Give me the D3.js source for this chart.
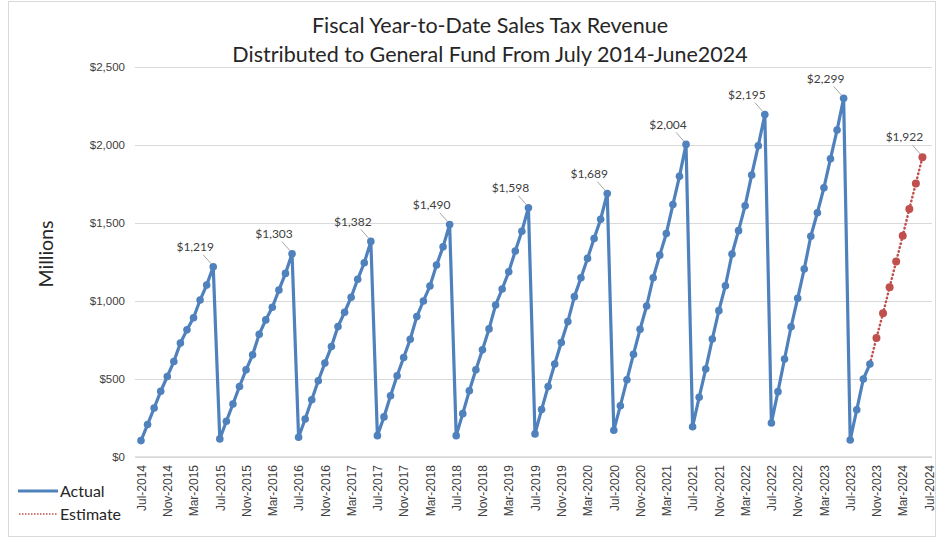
<!DOCTYPE html>
<html>
<head>
<meta charset="utf-8">
<script src="https://cdn.jsdelivr.net/npm/d3@7/dist/d3.min.js"></script>
<style>
  html, body { margin: 0; padding: 0; background: #ffffff; }
  svg { display: block; font-family: Lato, "Open Sans", sans-serif; }
</style>
</head>
<body>
<svg id="chart" width="937" height="540"></svg>
<script>
// ---- DATA ----
const titleLines = ["Fiscal Year-to-Date Sales Tax Revenue", "Distributed to General Fund From July 2014-June2024"];
const monthAbbr = ["Jul","Aug","Sep","Oct","Nov","Dec","Jan","Feb","Mar","Apr","May","Jun"];
const fiscalYears = [2015, 2016, 2017, 2018, 2019, 2020, 2021, 2022, 2023, 2024];
const fy2015 = [105, 208, 314, 421, 516, 612, 730, 815, 893, 1006, 1102, 1219];
const fy2016 = [116, 229, 340, 452, 559, 655, 787, 879, 960, 1070, 1177, 1303];
const fy2017 = [127, 244, 367, 489, 602, 708, 836, 928, 1024, 1139, 1245, 1382];
const fy2018 = [137, 257, 393, 521, 638, 755, 900, 1000, 1096, 1230, 1347, 1490];
const fy2019 = [137, 278, 425, 559, 687, 821, 974, 1077, 1187, 1320, 1447, 1598];
const fy2020 = [148, 304, 452, 596, 734, 868, 1028, 1149, 1273, 1401, 1524, 1689];
const fy2021 = [171, 329, 495, 659, 819, 968, 1149, 1294, 1433, 1618, 1799, 2004];
const fy2022 = [194, 383, 564, 756, 938, 1098, 1301, 1451, 1611, 1808, 1995, 2195];
const fy2023 = [218, 419, 628, 835, 1017, 1205, 1415, 1566, 1726, 1912, 2096, 2299];
const fy2024Actual = [109, 303, 500, 596];
const fy2024Estimate = [763, 921, 1088, 1254, 1418, 1590, 1754, 1922];
const peakLabels = ["$1,219", "$1,303", "$1,382", "$1,490", "$1,598", "$1,689", "$2,004", "$2,195", "$2,299", "$1,922"];
const yTicks = [0, 500, 1000, 1500, 2000, 2500];
const yTickLabels = ["$0", "$500", "$1,000", "$1,500", "$2,000", "$2,500"];
const xTickLabels = ["Jul-2014","Nov-2014","Mar-2015","Jul-2015","Nov-2015","Mar-2016","Jul-2016","Nov-2016","Mar-2017","Jul-2017","Nov-2017","Mar-2018","Jul-2018","Nov-2018","Mar-2019","Jul-2019","Nov-2019","Mar-2020","Jul-2020","Nov-2020","Mar-2021","Jul-2021","Nov-2021","Mar-2022","Jul-2022","Nov-2022","Mar-2023","Jul-2023","Nov-2023","Mar-2024","Jul-2024"];
const yTitle = "Millions";
const legendLabels = ["Actual", "Estimate"];

// ---- build categories (Jul-2014 .. Jul-2024) ----
const categories = [];
fiscalYears.forEach(fy => monthAbbr.forEach((m, i) => categories.push(m + "-" + (i < 6 ? fy - 1 : fy))));
categories.push("Jul-2024");

const actualValues = [].concat(fy2015, fy2016, fy2017, fy2018, fy2019, fy2020, fy2021, fy2022, fy2023, fy2024Actual);
const actual = actualValues.map((v, i) => ({ c: categories[i], v }));
const estStart = actualValues.length;
const estimate = [{ c: categories[estStart - 1], v: actualValues[estStart - 1] }]
  .concat(fy2024Estimate.map((v, i) => ({ c: categories[estStart + i], v })));

// ---- layout ----
const svg = d3.select("#chart");
const blue = "#4f81bd", red = "#c0504d", textCol = "#404040", grid = "#d9d9d9";
const x = d3.scalePoint().domain(categories).range([141, 929]);
const y = d3.scaleLinear().domain([0, 2500]).range([457, 67]);

svg.append("rect").attr("x", 8.5).attr("y", 1.5).attr("width", 927).attr("height", 535)
  .attr("fill", "#fff").attr("stroke", grid).attr("stroke-width", 1);

// title
svg.append("g").selectAll("text").data(titleLines).join("text")
  .attr("x", 490).attr("y", (d, i) => 33 + i * 29)
  .attr("text-anchor", "middle").attr("font-size", 21.5).attr("fill", "#262626")
  .text(d => d);

// gridlines + y axis labels
const yAxis = d3.axisLeft(y).tickValues(yTicks).tickSize(-797)
  .tickFormat((d, i) => yTickLabels[i]).tickPadding(10);
const gy = svg.append("g").attr("transform", "translate(135,0)").call(yAxis);
gy.select(".domain").remove();
gy.selectAll(".tick line").attr("stroke", grid).attr("stroke-width", 1.2);
gy.selectAll(".tick text").attr("fill", textCol).attr("font-size", 11.5).attr("x", -10);

// x axis
const xAxis = d3.axisBottom(x).tickValues(xTickLabels).tickSize(0).tickPadding(8);
const gx = svg.append("g").attr("transform", "translate(0,457)").call(xAxis);
gx.select(".domain").attr("stroke", grid).attr("stroke-width", 1.5).attr("d", "M135,0H932");
gx.selectAll(".tick text").attr("fill", textCol).attr("font-size", 12)
  .attr("transform", "rotate(-90)").attr("text-anchor", "end")
  .attr("x", -8).attr("y", 0).attr("dy", "0.35em");

// y title
svg.append("text").attr("transform", "translate(53,254) rotate(-90)")
  .attr("text-anchor", "middle").attr("font-size", 19.5).attr("fill", "#262626").text(yTitle);

// lines
const line = d3.line().x(d => x(d.c)).y(d => y(d.v));
svg.append("path").datum(estimate).attr("d", line).attr("fill", "none")
  .attr("stroke", red).attr("stroke-width", 2.5).attr("stroke-dasharray", "0.5,3.5")
  .attr("stroke-linecap", "round");
svg.append("path").datum(actual).attr("d", line).attr("fill", "none")
  .attr("stroke", blue).attr("stroke-width", 3.2).attr("stroke-linejoin", "round");
svg.append("g").selectAll("circle").data(actual).join("circle")
  .attr("cx", d => x(d.c)).attr("cy", d => y(d.v)).attr("r", 3.8).attr("fill", blue);
svg.append("g").selectAll("circle").data(estimate.slice(1)).join("circle")
  .attr("cx", d => x(d.c)).attr("cy", d => y(d.v)).attr("r", 4).attr("fill", red);

// peak labels
const peaks = fiscalYears.map((fy, k) => {
  const idx = k * 12 + 11;
  const src = idx < estStart ? actual[idx] : estimate[idx - estStart + 1];
  return { c: src.c, v: src.v, label: peakLabels[k] };
});
const gl = svg.append("g");
gl.selectAll("line").data(peaks).join("line")
  .attr("x1", d => x(d.c) - 10).attr("y1", d => y(d.v) - 12)
  .attr("x2", d => x(d.c) - 2).attr("y2", d => y(d.v) - 3)
  .attr("stroke", "#a6a6a6").attr("stroke-width", 1);
gl.selectAll("text").data(peaks).join("text")
  .attr("x", d => x(d.c) - 18).attr("y", d => y(d.v) - 20)
  .attr("text-anchor", "middle").attr("dy", "0.35em")
  .attr("font-size", 12).attr("fill", textCol).text(d => d.label);

// legend
const leg = svg.append("g");
leg.append("line").attr("x1", 18).attr("x2", 58).attr("y1", 491).attr("y2", 491)
  .attr("stroke", blue).attr("stroke-width", 3);
leg.append("line").attr("x1", 19).attr("x2", 58).attr("y1", 514).attr("y2", 514)
  .attr("stroke", red).attr("stroke-width", 1.5).attr("stroke-dasharray", "1.5,1.5");
leg.selectAll("text").data(legendLabels).join("text")
  .attr("x", 60).attr("y", (d, i) => 491 + i * 23).attr("dy", "0.35em")
  .attr("font-size", 16).attr("fill", "#262626").text(d => d);
</script>
</body>
</html>
